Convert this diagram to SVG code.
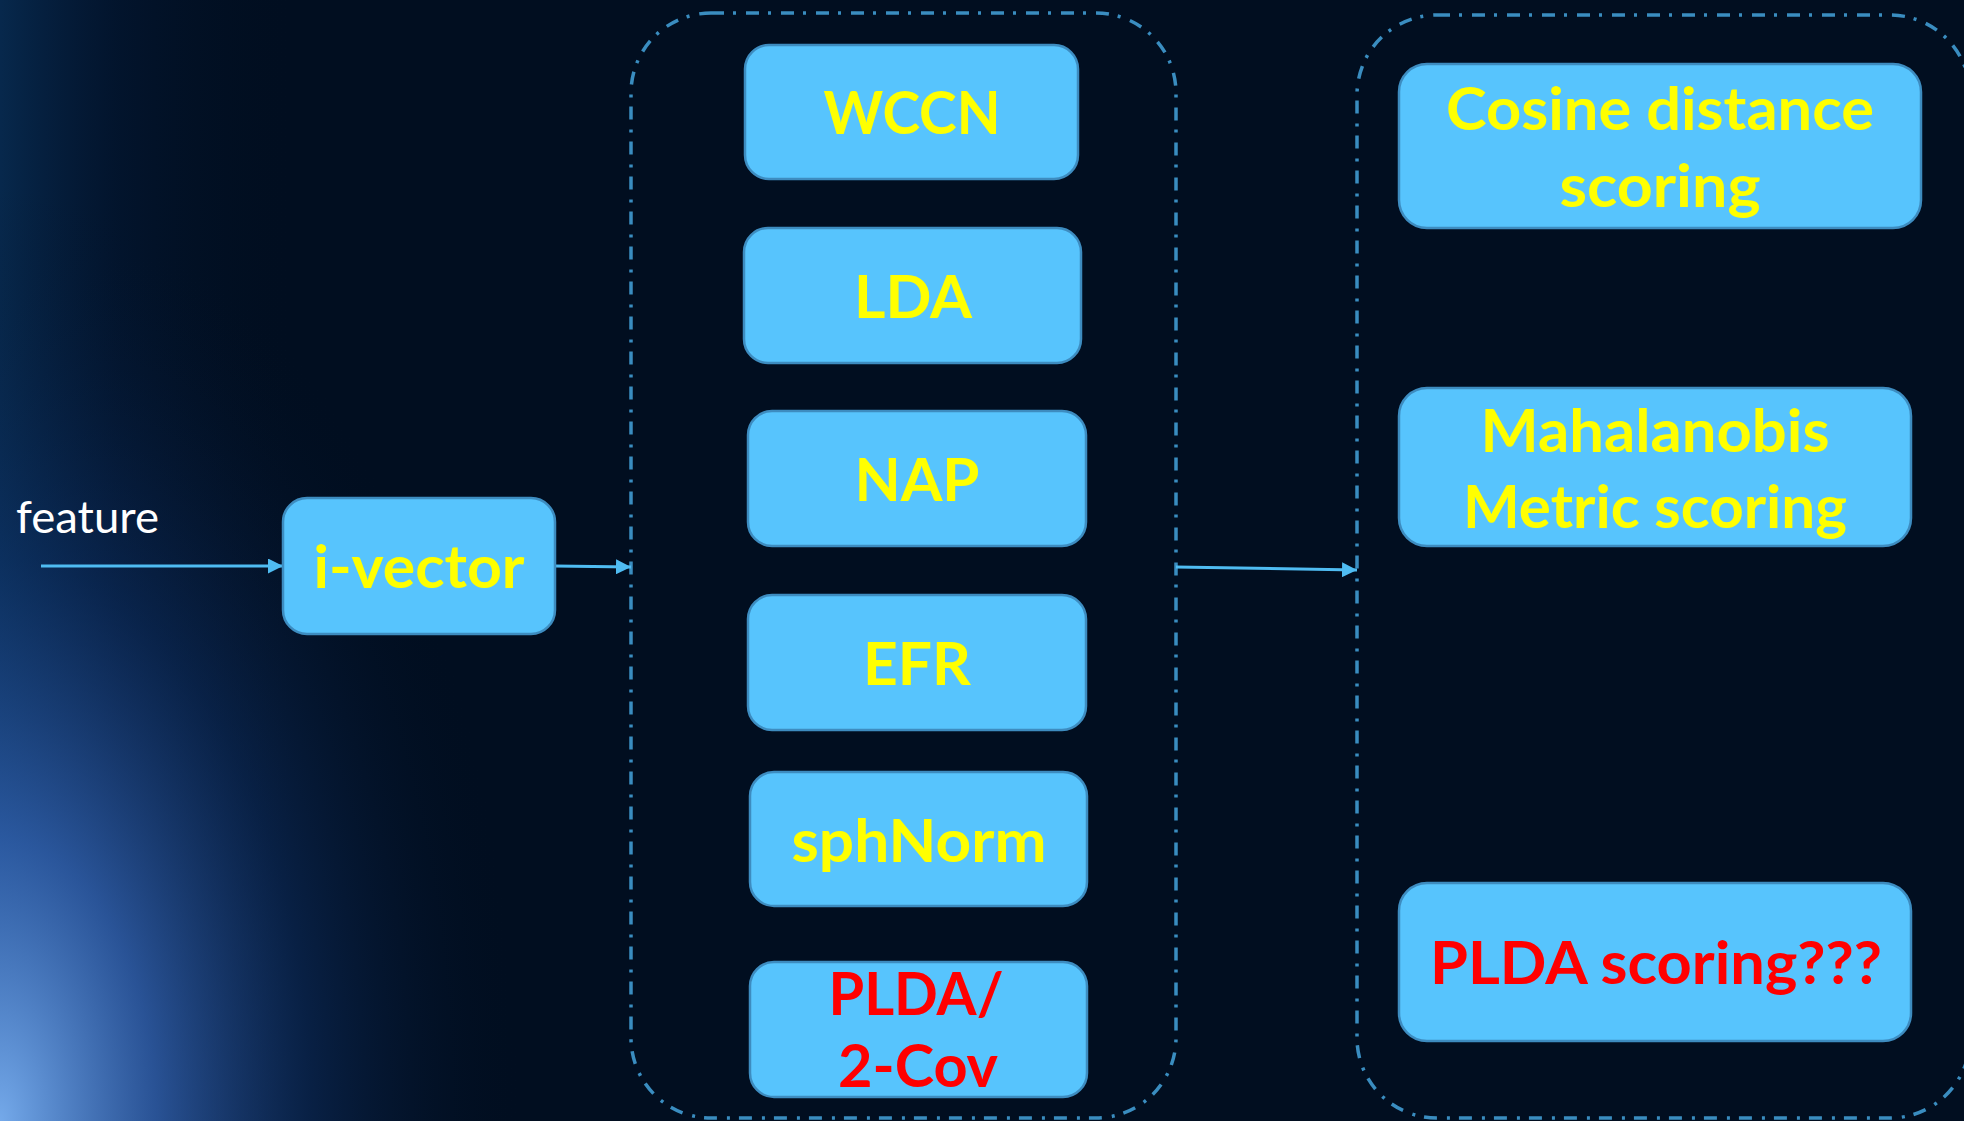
<svg xmlns="http://www.w3.org/2000/svg" width="1964" height="1121" viewBox="0 0 1964 1121">
  <defs>
    <radialGradient id="glow" cx="0" cy="1121" r="520" gradientUnits="userSpaceOnUse" gradientTransform="translate(0 1121) scale(1 1.8) translate(0 -1121)">
      <stop offset="0" stop-color="#7ab0f2" stop-opacity="0.95"/>
      <stop offset="0.3" stop-color="#3a6ec4" stop-opacity="0.7"/>
      <stop offset="0.6" stop-color="#133b7a" stop-opacity="0.4"/>
      <stop offset="1" stop-color="#020f22" stop-opacity="0"/>
    </radialGradient>
    <linearGradient id="edge" x1="0" y1="0" x2="1" y2="0">
      <stop offset="0" stop-color="#0b3a6a" stop-opacity="0.6"/>
      <stop offset="0.06" stop-color="#06234a" stop-opacity="0.3"/>
      <stop offset="0.15" stop-color="#020f22" stop-opacity="0"/>
    </linearGradient>
    <marker id="arrow" viewBox="0 0 10 10" refX="10" refY="5" markerWidth="5" markerHeight="5" orient="auto" markerUnits="strokeWidth">
      <path d="M0,0 L10,5 L0,10 z" fill="#4fbcf2"/>
    </marker>
  </defs>
  <style>
    .box { fill: #57c4fd; stroke: #3d8cc0; stroke-width: 2.5; }
    .group { fill: none; stroke: #3a8dc0; stroke-width: 3.5; stroke-dasharray: 13 9 3 10; }
    .lbl { font-family: Lato, "Open Sans", "Noto Sans", sans-serif; font-weight: bold; font-size: 60px; text-anchor: middle; }
    .y { fill: #ffff00; }
    .r { fill: #ff0000; }
    .conn { stroke: #4fbcf2; stroke-width: 3; fill: none; marker-end: url(#arrow); }
    .plain { font-family: Lato, "Open Sans", "Noto Sans", sans-serif; font-size: 44px; fill: #ffffff; }
  </style>

  <rect x="0" y="0" width="1964" height="1121" fill="#010e20"/>
  <rect x="0" y="0" width="1964" height="1121" fill="url(#edge)"/>
  <rect x="0" y="0" width="1964" height="1121" fill="url(#glow)"/>

  <g id="group-middle">
    <rect class="group" x="631" y="13" width="545" height="1105" rx="80" ry="80"/>
  </g>
  <g id="group-right">
    <rect class="group" x="1357" y="15" width="613" height="1103" rx="80" ry="80"/>
  </g>

  <g id="connectors">
    <line class="conn" x1="41" y1="566" x2="283" y2="566"/>
    <line class="conn" x1="555" y1="566" x2="631" y2="567"/>
    <line class="conn" x1="1176" y1="567" x2="1357" y2="570"/>
  </g>

  <g id="feature">
    <text class="plain" x="16" y="533" textLength="143" lengthAdjust="spacingAndGlyphs">feature</text>
  </g>

  <g id="ivector">
    <rect class="box" x="283" y="498" width="272" height="136" rx="24"/>
    <text class="lbl y" x="419" y="588" textLength="211" lengthAdjust="spacingAndGlyphs">i-vector</text>
  </g>

  <g id="wccn">
    <rect class="box" x="745" y="45" width="333" height="134" rx="24"/>
    <text class="lbl y" x="912" y="134" textLength="177" lengthAdjust="spacingAndGlyphs">WCCN</text>
  </g>
  <g id="lda">
    <rect class="box" x="744" y="228" width="337" height="135" rx="24"/>
    <text class="lbl y" x="913" y="318" textLength="118" lengthAdjust="spacingAndGlyphs">LDA</text>
  </g>
  <g id="nap">
    <rect class="box" x="748" y="411" width="338" height="135" rx="24"/>
    <text class="lbl y" x="917" y="501" textLength="125" lengthAdjust="spacingAndGlyphs">NAP</text>
  </g>
  <g id="efr">
    <rect class="box" x="748" y="595" width="338" height="135" rx="24"/>
    <text class="lbl y" x="917" y="685" textLength="108" lengthAdjust="spacingAndGlyphs">EFR</text>
  </g>
  <g id="sphnorm">
    <rect class="box" x="750" y="772" width="337" height="134" rx="24"/>
    <text class="lbl y" x="919" y="862" textLength="255" lengthAdjust="spacingAndGlyphs">sphNorm</text>
  </g>
  <g id="plda-2cov">
    <rect class="box" x="750" y="962" width="337" height="135" rx="24"/>
    <text class="lbl r" x="916" y="1015" textLength="175" lengthAdjust="spacingAndGlyphs">PLDA/</text>
    <text class="lbl r" x="918" y="1087" textLength="160" lengthAdjust="spacingAndGlyphs">2-Cov</text>
  </g>

  <g id="cosine">
    <rect class="box" x="1399" y="64" width="522" height="164" rx="28"/>
    <text class="lbl y" x="1660" y="130" textLength="428" lengthAdjust="spacingAndGlyphs">Cosine distance</text>
    <text class="lbl y" x="1660" y="207" textLength="201" lengthAdjust="spacingAndGlyphs">scoring</text>
  </g>
  <g id="mahalanobis">
    <rect class="box" x="1399" y="388" width="512" height="158" rx="28"/>
    <text class="lbl y" x="1655" y="452" textLength="349" lengthAdjust="spacingAndGlyphs">Mahalanobis</text>
    <text class="lbl y" x="1655" y="528" textLength="384" lengthAdjust="spacingAndGlyphs">Metric scoring</text>
  </g>
  <g id="plda-scoring">
    <rect class="box" x="1399" y="883" width="512" height="158" rx="28"/>
    <text class="lbl r" x="1656" y="984" textLength="452" lengthAdjust="spacingAndGlyphs">PLDA scoring???</text>
  </g>
</svg>
